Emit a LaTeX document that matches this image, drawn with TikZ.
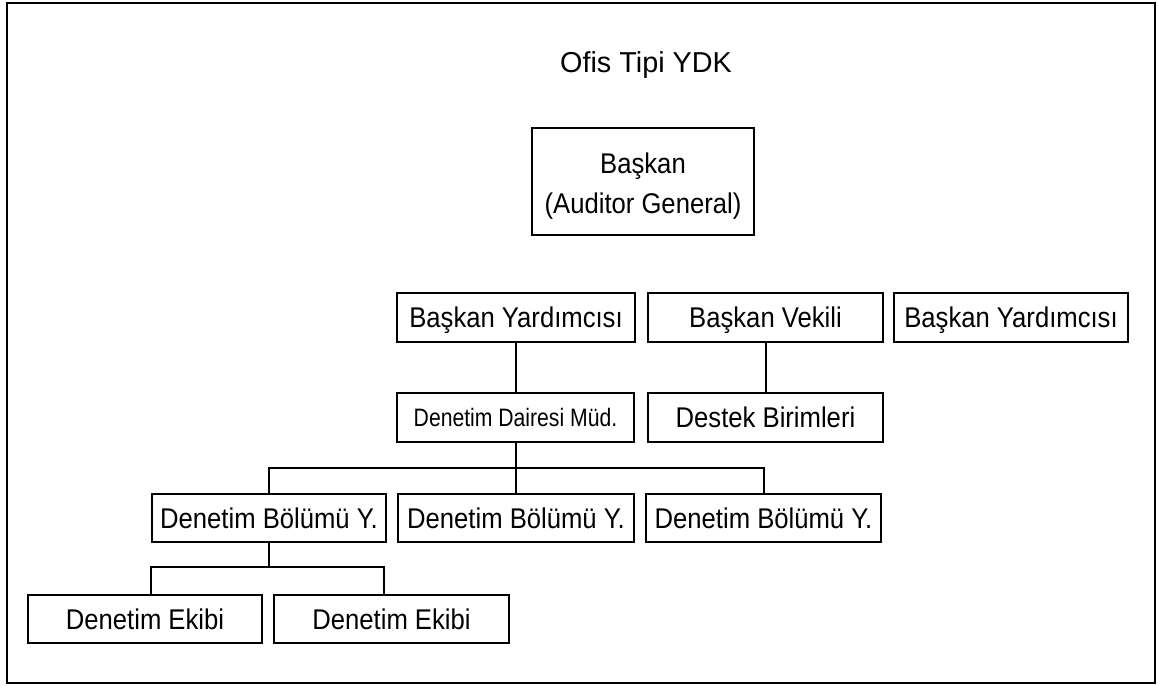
\documentclass[tikz,border=0pt]{standalone}
\usepackage{fontspec}
\setmainfont[FakeStretch=0.9]{Liberation Sans}
\newfontfamily\titlefont{Liberation Sans}
\newfontfamily\narrowfont[FakeStretch=0.84]{Liberation Sans}
\usetikzlibrary{calc}
\begin{document}
\begin{tikzpicture}[x=0.5pt,y=-0.5pt,
  line width=1pt,
  box/.style={draw, rectangle, inner sep=0pt, align=center,
    font=\fontsize{14.25}{20}\selectfont, text height=10pt, text depth=0pt},
  conn/.style={draw, line width=1pt}]
\useasboundingbox (0,0) rectangle (1158,686);
\draw[line width=1pt] (7,3) rectangle (1155,683);
\node[font=\titlefont\fontsize{14.4}{17}\selectfont, inner sep=0pt, text height=10pt, text depth=0pt] (title) at (646,62) {Ofis Tipi YDK};
\node[box, minimum width=111pt, minimum height=53.5pt, text height=, text depth=] (baskan) at (643,181.5) {\rule{0pt}{15pt}Başkan\\(Auditor General)};
\node[box, minimum width=119pt, minimum height=24.5pt] (by1) at (516,317.5) {Başkan Yardımcısı};
\node[box, minimum width=117.5pt, minimum height=24.5pt] (bv) at (765.5,317.5) {Başkan Vekili};
\node[box, minimum width=117pt, minimum height=24.5pt] (by2) at (1011,317.5) {Başkan Yardımcısı};
\node[box, minimum width=118.5pt, minimum height=24.5pt, font=\narrowfont\fontsize{12.6}{16}\selectfont, text height=9pt] (ddm) at (515.5,417.5) {Denetim Dairesi Müd.};
\node[box, minimum width=117.5pt, minimum height=24.5pt] (db) at (765.5,417.5) {Destek Birimleri};
\node[box, minimum width=117pt, minimum height=24pt] (dby1) at (269,518) {Denetim Bölümü Y.};
\node[box, minimum width=118pt, minimum height=24pt] (dby2) at (516,518) {Denetim Bölümü Y.};
\node[box, minimum width=117.5pt, minimum height=24pt] (dby3) at (763.5,518) {Denetim Bölümü Y.};
\node[box, minimum width=117pt, minimum height=24pt] (de1) at (145,619) {Denetim Ekibi};
\node[box, minimum width=117.5pt, minimum height=24pt] (de2) at (391.5,619) {Denetim Ekibi};
\coordinate (bus1) at (0,468);
\coordinate (bus2) at (0,568);
\draw[conn] (by1.south) -- (by1.south |- ddm.north);
\draw[conn] (bv.south) -- (bv.south |- db.north);
\draw[conn] (ddm.south) -- (ddm.south |- dby2.north);
\draw[conn] (dby1.north) |- (bus1 -| dby3.north) -- (dby3.north);
\draw[conn] (dby1.south) -- (dby1.south |- bus2);
\draw[conn] ($(de1.north west)+(124,0)$) |- ($(de2.north west)+(111,-27)$) -- ($(de2.north west)+(111,0)$);
\end{tikzpicture}
\end{document}
